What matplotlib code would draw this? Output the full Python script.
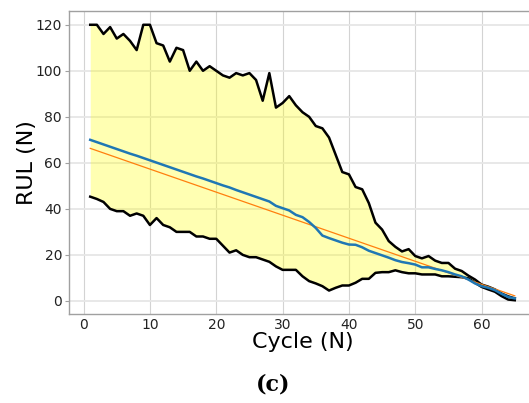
import numpy as np
import matplotlib
matplotlib.use("Agg")
import matplotlib.pyplot as plt

# Remaining-useful-life prediction band over the run cycles
cycles = list(range(1, 66))

rul_upper = [120, 120, 116, 119, 114, 116, 113, 109, 120, 120,
             112, 111, 104, 110, 109, 100, 104, 100, 102, 100,
             98, 97, 99, 98, 99, 96, 87, 99, 84, 86,
             89, 85, 82, 80, 76, 75, 71, 63.5, 56, 55,
             49.5, 48.5, 42.5, 34, 31, 26, 23.5, 21.5, 22.5, 19.5,
             18.5, 19.5, 17.5, 16.5, 16.5, 14, 13, 11, 9.3, 7.1,
             6.2, 5, 3.2, 2, 1.1]

rul_lower = [45.3, 44.3, 43, 40, 39, 39, 37, 38, 37, 33,
             36, 33, 32, 30, 30, 30, 28, 28, 27, 27,
             24, 21, 22, 20, 19, 19, 18, 17, 15, 13.5,
             13.5, 13.5, 10.7, 8.6, 7.6, 6.4, 4.5, 5.7, 6.7, 6.7,
             7.9, 9.6, 9.6, 12.2, 12.5, 12.5, 13.3, 12.5, 12, 12,
             11.5, 11.5, 11.5, 10.7, 10.7, 10.5, 10.3, 9.8, 7.9, 6.1,
             5, 4, 2.1, 0.6, 0.3]

rul_mean = [70.0, 69.0, 68.0, 67.0, 66.0, 65.0, 64.0, 63.1, 62.1, 61.1,
            60.1, 59.1, 58.1, 57.1, 56.1, 55.1, 54.1, 53.2, 52.2, 51.2,
            50.2, 49.3, 48.2, 47.2, 46.2, 45.2, 44.2, 43.2, 41.3, 40.3,
            39.3, 37.4, 36.4, 34.3, 31.7, 28.4, 27.3, 26.3, 25.3, 24.5,
            24.4, 23.3, 21.8, 20.8, 19.8, 18.8, 17.7, 16.9, 16.4, 15.8,
            14.6, 14.6, 13.9, 13.3, 12.5, 11.5, 10.7, 9.3, 7.6, 6.4,
            5.7, 4.7, 3.1, 1.7, 1.1]

# straight reference trend from the first to the last cycle
trend_start, trend_end = 66.3, 2.2

x_ticks = [0, 10, 20, 30, 40, 50, 60]
y_ticks = [0, 20, 40, 60, 80, 100, 120]

W, H = 529, 403
fig = plt.figure(figsize=(W / 100, H / 100), dpi=100)
ax = fig.add_axes([69 / W, (H - 314) / H, (536 - 69) / W, (314 - 11) / H])

ax.fill_between(cycles, rul_lower, rul_upper, color="yellow", alpha=0.3, lw=0)
ax.plot(cycles, rul_upper, color="black", lw=1.8)
ax.plot(cycles, rul_lower, color="black", lw=1.8)
ax.plot([cycles[0], cycles[-1]], [trend_start, trend_end], color="#ff7f0e", lw=0.9)
ax.plot(cycles, rul_mean, color="#1f77b4", lw=1.8)

ax.set_xticks(x_ticks)
ax.set_yticks(y_ticks)
ax.margins(x=0.05, y=0.05)
ax.set_axisbelow(True)
ax.xaxis.grid(True, color="#d3d3d3", lw=0.8)
ax.yaxis.grid(True, color="#e6e6e6", lw=1.3)

for side in ("left", "bottom", "top"):
    ax.spines[side].set_color("#a0a0a0")
    ax.spines[side].set_linewidth(1.0)
ax.spines["right"].set_visible(False)
ax.tick_params(axis="both", colors="#a0a0a0", labelcolor="#222222",
               labelsize=10, length=3, width=0.8)
ax.tick_params(axis="x", length=0, pad=3)
ax.tick_params(axis="y", pad=2)

ax.set_xlabel("Cycle (N)", fontsize=16, labelpad=0)
ax.set_ylabel("RUL (N)", fontsize=16, labelpad=-1)

fig.text(273 / W, 1 - 385 / H, "(c)", ha="center", va="center",
         fontsize=16, fontweight="bold", family="DejaVu Serif")

fig.savefig("out.png", dpi=100)
